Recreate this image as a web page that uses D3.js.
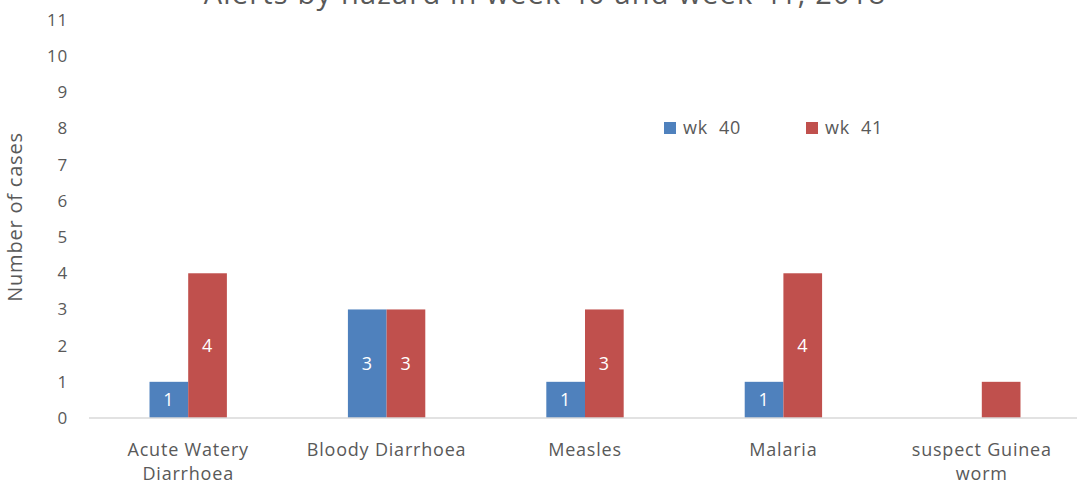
<!DOCTYPE html>
<html>
<head>
<meta charset="utf-8">
<script src="https://cdn.jsdelivr.net/npm/d3@7"></script>
<style>
  body { margin: 0; background: #fff; }
  text { font-family: "Open Sans", sans-serif; fill: #595959; letter-spacing: 0.8px; }
</style>
</head>
<body>
<div id="chart"></div>
<script>
// Chart data
var categories = ["Acute Watery Diarrhoea", "Bloody Diarrhoea", "Measles", "Malaria", "suspect Guinea worm"];
var categoryLines = [["Acute Watery", "Diarrhoea"], ["Bloody Diarrhoea"], ["Measles"], ["Malaria"], ["suspect Guinea", "worm"]];
var wk40 = [1, 3, 1, 1, 0];
var wk41 = [4, 3, 3, 4, 1];
var wk40Labels = [true, true, true, true, false];
var wk41Labels = [true, true, true, true, false];
var seriesNames = ["wk 40", "wk 41"];
var seriesColors = ["#4f81bd", "#c0504d"];
var yTicks = d3.range(0, 12);

var svgWidth = 1077;
var svgHeight = 487;

var margin = { top: 20, right: -4, bottom: 69, left: 89 };
var width = svgWidth - margin.left - margin.right;
var height = svgHeight - margin.top - margin.bottom;

var svg = d3.select("#chart")
  .append("svg")
  .attr("width", svgWidth)
  .attr("height", svgHeight);

// Title (mostly above the view, as in the reference)
svg.append("text")
  .attr("x", 545)
  .attr("y", 4)
  .attr("text-anchor", "middle")
  .style("font-size", "29px")
  .style("letter-spacing", "1.2px")
  .text("Alerts by hazard in week 40 and week 41, 2018");

var chartGroup = svg.append("g")
  .attr("transform", `translate(${margin.left}, ${margin.top})`);

var xScale = d3.scaleBand()
  .domain(categories)
  .range([0, width]);

var xInner = d3.scaleBand()
  .domain(seriesNames)
  .range([xScale.bandwidth() * 0.305, xScale.bandwidth() * 0.695]);

var yScale = d3.scaleLinear()
  .domain([0, 11])
  .range([height, 0]);

// Y axis (labels only)
var leftAxis = d3.axisLeft(yScale).tickValues(yTicks).tickSize(0).tickPadding(21);
var yAxis = chartGroup.append("g").call(leftAxis);
yAxis.select(".domain").remove();
yAxis.selectAll("text")
  .style("font-size", "17px")
  .style("fill", "#595959")
  .style("font-family", "'Open Sans', sans-serif");

// Y axis title
chartGroup.append("text")
  .attr("transform", `translate(${-67}, ${height / 2 - 2}) rotate(-90)`)
  .attr("text-anchor", "middle")
  .style("font-size", "20px")
  .text("Number of cases");

// Bars
var rows = categories.map((c, i) => ({
  cat: c,
  values: [
    { name: seriesNames[0], value: wk40[i], label: wk40Labels[i], color: seriesColors[0] },
    { name: seriesNames[1], value: wk41[i], label: wk41Labels[i], color: seriesColors[1] }
  ]
}));

var groups = chartGroup.selectAll(".cat")
  .data(rows)
  .enter()
  .append("g")
  .attr("class", "cat")
  .attr("transform", d => `translate(${xScale(d.cat)}, 0)`);

groups.selectAll("rect")
  .data(d => d.values)
  .enter()
  .append("rect")
  .attr("x", d => xInner(d.name))
  .attr("y", d => yScale(d.value))
  .attr("width", xInner.bandwidth())
  .attr("height", d => height - yScale(d.value))
  .attr("fill", d => d.color);

groups.selectAll(".barLabel")
  .data(d => d.values.filter(v => v.label && v.value > 0))
  .enter()
  .append("text")
  .attr("class", "barLabel")
  .attr("x", d => xInner(d.name) + xInner.bandwidth() / 2)
  .attr("y", d => (yScale(d.value) + height) / 2)
  .attr("dy", "0.35em")
  .attr("text-anchor", "middle")
  .style("font-size", "18px")
  .style("fill", "#ffffff")
  .text(d => d.value);

// X axis line
chartGroup.append("line")
  .attr("x1", 0)
  .attr("x2", width)
  .attr("y1", height)
  .attr("y2", height)
  .attr("stroke", "#d9d9d9")
  .attr("stroke-width", 1.5);

// Category labels
categories.forEach((c, i) => {
  var t = chartGroup.append("text")
    .attr("x", xScale(c) + xScale.bandwidth() / 2)
    .attr("y", height + 38)
    .attr("text-anchor", "middle")
    .style("font-size", "18px");
  categoryLines[i].forEach((line, j) => {
    t.append("tspan")
      .attr("x", xScale(c) + xScale.bandwidth() / 2)
      .attr("dy", j === 0 ? 0 : 24)
      .text(line);
  });
});

// Legend
var legendX = [664, 806];
seriesNames.forEach((name, i) => {
  svg.append("rect")
    .attr("x", legendX[i])
    .attr("y", 122)
    .attr("width", 12)
    .attr("height", 12)
    .attr("fill", seriesColors[i]);
  svg.append("text")
    .attr("x", legendX[i] + 19)
    .attr("y", 134)
    .style("font-size", "18px")
    .attr("xml:space", "preserve")
    .text(name.replace(" ", "  "));
});
</script>
</body>
</html>
